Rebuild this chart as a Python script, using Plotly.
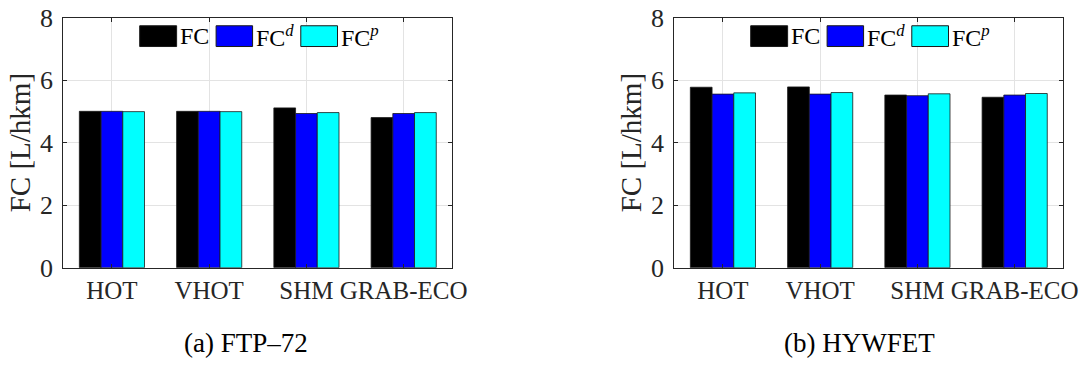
import plotly.graph_objects as go

categories = ["HOT", "VHOT", "SHM", "GRAB-ECO"]

# (a) FTP-72
ftp_fc = [5.00, 5.00, 5.11, 4.80]
ftp_fcd = [5.00, 5.00, 4.93, 4.93]
ftp_fcp = [4.99, 4.99, 4.96, 4.96]

# (b) HYWFET
hwy_fc = [5.77, 5.78, 5.52, 5.45]
hwy_fcd = [5.55, 5.55, 5.50, 5.52]
hwy_fcp = [5.59, 5.60, 5.56, 5.57]

series_names = ["FC", "FC<sup><i>d</i></sup>", "FC<sup><i>p</i></sup>"]
series_colors = ["#000000", "#0000ff", "#00ffff"]
y_ticks = [0, 2, 4, 6, 8]
subtitles = ["(a) FTP\u201372", "(b) HYWFET"]

W, H = 1083, 365
FONT = "Liberation Serif"
AX = "#262626"

fig = go.Figure()

panels = [
    (ftp_fc, ftp_fcd, ftp_fcp),
    (hwy_fc, hwy_fcd, hwy_fcp),
]
ax_ids = ["", "2"]
x_domains = [[63.3 / W, 452.3 / W], [674.3 / W, 1063.3 / W]]
y_domain = [(H - 267.7) / H, (H - 17.5) / H]

for p, (vals, axid) in enumerate(zip(panels, ax_ids)):
    for s, (v, name, col) in enumerate(zip(vals, series_names, series_colors)):
        fig.add_trace(go.Bar(
            x=categories, y=v, name=name, showlegend=False,
            marker=dict(color=col, line=dict(color="#1a1a1a", width=0.8)),
            xaxis="x" + axid, yaxis="y" + axid,
        ))

axis_common = dict(
    showline=True, linecolor=AX, linewidth=1, mirror="ticks",
    ticks="inside", ticklen=4, tickcolor=AX, tickwidth=1,
    showgrid=True, gridcolor="#e3e3e3", gridwidth=1,
    zeroline=False, automargin=False,
)

layout = dict(
    width=W, height=H,
    margin=dict(l=0, r=0, t=0, b=0),
    paper_bgcolor="white", plot_bgcolor="white",
    barmode="group", bargap=0.33, bargroupgap=0,
    showlegend=False,
    font=dict(family=FONT, color=AX),
)
for p, axid in enumerate(ax_ids):
    layout["xaxis" + axid] = dict(
        axis_common, domain=x_domains[p], anchor="y" + axid,
        type="category", range=[-0.5, 3.5], ticklabelstandoff=0, tickangle=0,
        tickfont=dict(family=FONT, size=25, color=AX),
    )
    layout["yaxis" + axid] = dict(
        axis_common, domain=y_domain, anchor="x" + axid,
        range=[0, 8], tickvals=y_ticks, ticklabelstandoff=4,
        tickfont=dict(family=FONT, size=26, color=AX),
        title=dict(text="FC [L/hkm]", font=dict(family=FONT, size=29, color=AX), standoff=0),
    )
fig.update_layout(**layout)

# custom legend (large swatches like the original)
sw_x = [(0.1964, 0.2913), (0.3928, 0.4866), (0.6105, 0.7049)]
tx_x = [0.3008, 0.4954, 0.7136]
shapes = []
annotations = []
for p, axid in enumerate(ax_ids):
    xr = "x" + axid + " domain"
    yr = "y" + axid + " domain"
    for (x0, x1), tx, name, col in zip(sw_x, tx_x, series_names, series_colors):
        shapes.append(dict(type="rect", xref=xr, yref=yr, x0=x0, x1=x1, y0=0.884, y1=0.967,
                           fillcolor=col, line=dict(color="#1a1a1a", width=1)))
        annotations.append(dict(xref=xr, yref=yr, x=tx - 0.006, y=0.925, xanchor="left", yanchor="middle",
                                text=name, showarrow=False,
                                font=dict(family=FONT, size=24, color="#000000")))

sub_x = [246 / W, 859 / W]
for sx, txt in zip(sub_x, subtitles):
    annotations.append(dict(xref="paper", yref="paper", x=sx, y=(H - 343) / H,
                            xanchor="center", yanchor="middle", text=txt, showarrow=False,
                            font=dict(family=FONT, size=27, color="#000000")))

fig.update_layout(shapes=shapes, annotations=annotations)
fig.write_html("out.html")
